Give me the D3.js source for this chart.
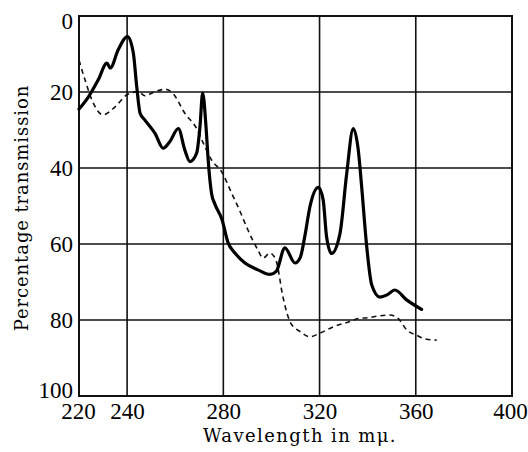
<!DOCTYPE html>
<html>
<head>
<meta charset="utf-8">
<script src="https://cdn.jsdelivr.net/npm/d3@7"></script>
<style>
  body { margin: 0; background: #fff; }
  svg { display: block; }
  .tick text { font-family: "Liberation Serif", serif; font-size: 23px; fill: #000; }
  .title { font-family: "DejaVu Serif", serif; font-size: 18px; fill: #000; }
</style>
</head>
<body>
<svg id="chart"></svg>
<script>
// wavelength (m\u03bc) and percentage transmission
const solidW = [220, 224, 228, 231.6, 233, 236.3, 240.2, 242.6, 244, 245.4, 247.4, 251.6, 255, 257.8, 261.3, 264, 266.1, 268.9, 270.3, 271.4, 272.8, 273.7, 275.1, 276.5, 279.4, 282, 285, 289, 294.4, 299.4, 302, 305.6, 309.8, 312, 314, 316, 319.5, 321.5, 322.9, 325, 328.5, 331.3, 334, 336.1, 337.5, 339.5, 341.7, 345.1, 348.1, 351.3, 356.2, 362.4];
const solidT = [24.5, 21.2, 16.8, 12.4, 13.7, 8.9, 5.4, 9.8, 18.6, 25.6, 27.4, 30.9, 34.8, 33, 29.6, 35.3, 38.3, 36.1, 29.1, 20.3, 29.1, 37.9, 46.7, 49.5, 53.5, 59.7, 62.5, 65, 66.8, 68, 67.2, 61, 65, 63.5, 57.5, 50.2, 45.1, 48.4, 58, 62.5, 57.2, 41.4, 29.6, 35.3, 44.9, 60, 70.8, 74, 73.4, 72.1, 74.7, 77.2];

const dashW = [220, 222.5, 226, 230, 235, 239.8, 244.6, 247.4, 251.6, 256, 259.2, 264, 268.9, 271.7, 275.1, 279.3, 283.5, 287, 290, 294.4, 296.5, 299.4, 302, 304.8, 308, 311.8, 316, 320, 325.7, 332.6, 336.1, 340, 344, 349.3, 352.7, 356.2, 360.3, 364, 368.7];
const dashT = [11.6, 16.8, 23, 26, 23.9, 20.8, 19.9, 21, 19.9, 19.3, 20.5, 25.6, 29.6, 33.5, 37.9, 41, 46.7, 51.5, 56, 61.6, 63.7, 62.4, 64.5, 74, 80.8, 83, 84.4, 83.5, 81.8, 80.4, 79.6, 79.4, 79, 78.7, 79.6, 82.6, 84, 85, 85.3];

const xTicks = [220, 240, 280, 320, 360, 400];
const xGrid = [240, 280, 320, 360, 400];
const yTicks = [0, 20, 40, 60, 80, 100];

let margin = {top: 16, right: 16, bottom: 56, left: 79},
    width = 528 - margin.left - margin.right,
    height = 452 - margin.top - margin.bottom;

let x = d3.scaleLinear().domain([220, 400]).range([0, width]);
let y = d3.scaleLinear().domain([0, 100]).range([0, height]);

let svg = d3.select("#chart")
    .attr("width", 528)
    .attr("height", 452);

let g = svg.append("g")
    .attr("transform", "translate(" + margin.left + "," + margin.top + ")");

// grid
g.selectAll(".vgrid").data(xGrid).enter().append("line")
    .attr("x1", d => x(d)).attr("x2", d => x(d))
    .attr("y1", 0).attr("y2", height)
    .attr("stroke", "#111").attr("stroke-width", 1.6);

g.selectAll(".hgrid").data(yTicks).enter().append("line")
    .attr("x1", 0).attr("x2", width)
    .attr("y1", d => y(d)).attr("y2", d => y(d))
    .attr("stroke", "#111").attr("stroke-width", 1.6);

// frame
g.append("rect")
    .attr("width", width).attr("height", height)
    .attr("fill", "none").attr("stroke", "#111").attr("stroke-width", 2);

// axes (labels only)
let xAxis = d3.axisBottom(x).tickValues(xTicks).tickSize(0).tickPadding(7).tickFormat(d3.format("d"));
let yAxis = d3.axisLeft(y).tickValues(yTicks).tickSize(0).tickPadding(6).tickFormat(d3.format("d"));

g.append("g").attr("transform", "translate(0," + height + ")").call(xAxis)
    .call(a => a.select(".domain").remove())
    .selectAll(".tick text")
    .attr("dx", d => d === 400 ? -2 : d === 220 ? -1 : 0);

g.append("g").call(yAxis)
    .call(a => a.select(".domain").remove())
    .selectAll(".tick text")
    .attr("dy", d => d === 0 ? "0.55em" : d === 100 ? "0.05em" : "0.32em");

// curves
let line = (ws, ts) => d3.line()
    .x((d, i) => x(ws[i]))
    .y((d, i) => y(ts[i]))
    .curve(d3.curveMonotoneX)(ws);

g.append("path")
    .attr("d", line(dashW, dashT))
    .attr("fill", "none").attr("stroke", "#111")
    .attr("stroke-width", 1.6).attr("stroke-dasharray", "5,4");

g.append("path")
    .attr("d", line(solidW, solidT))
    .attr("fill", "none").attr("stroke", "#000")
    .attr("stroke-width", 3.2).attr("stroke-linejoin", "round").attr("stroke-linecap", "round");

// titles
svg.append("text").attr("class", "title")
    .attr("x", 300).attr("y", 442)
    .attr("text-anchor", "middle")
    .style("letter-spacing", "1.4px")
    .text("Wavelength in m\u03bc.");

svg.append("text").attr("class", "title")
    .attr("transform", "translate(28,208) rotate(-90)")
    .attr("text-anchor", "middle")
    .style("letter-spacing", "0.9px")
    .text("Percentage transmission");
</script>
</body>
</html>
